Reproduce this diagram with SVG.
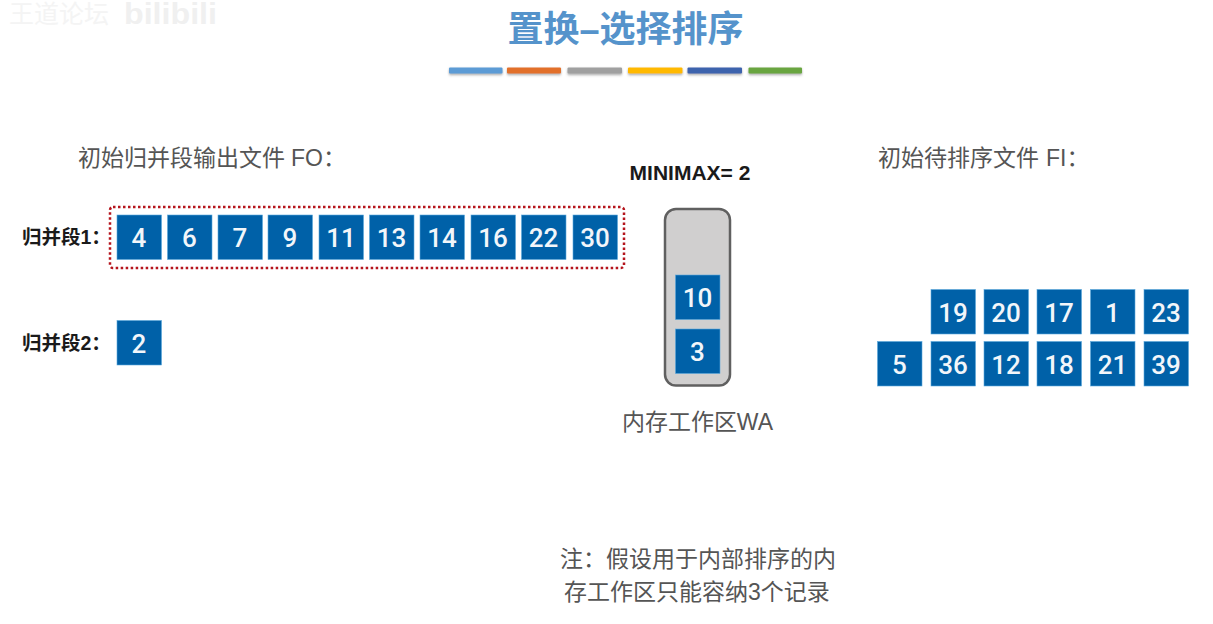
<svg xmlns="http://www.w3.org/2000/svg" width="1213" height="624" viewBox="0 0 1213 624">
<style>
text{font-family:"Liberation Sans","Noto Sans CJK SC",sans-serif}
.b{fill:#0061a8;stroke:#5aa9dc;stroke-width:.6}
.n{fill:#f2f6fa;font-size:26px;font-family:"Roboto","Liberation Sans",sans-serif;font-weight:500;text-anchor:middle}
.l{fill:#555;font-size:23px}
.s{fill:#1a1a1a;font-size:19.500px;font-weight:700}
.bar{filter:url(#sh)}
</style>
<defs><filter id="sh" x="-5%" y="-50%" width="110%" height="250%"><feDropShadow dx="0" dy="1.500" stdDeviation="1" flood-color="#555" flood-opacity=".5"/></filter></defs>
<rect width="1213" height="624" fill="#fff"/>
<g id="watermark" fill="#f0f0f0"><text x="9" y="23" font-size="25" fill="#f4f4f4">王道论坛</text><text x="124" y="24" font-size="29" font-weight="700" textLength="93" lengthAdjust="spacingAndGlyphs">bilibili</text></g>
<g id="title"><text x="625.500" y="42" font-size="36" font-weight="700" fill="#5593cb" text-anchor="middle">置换–选择排序</text>
<g class="bar"><rect x="449" y="67.500" width="53.500" height="6" rx="1" fill="#5b9bd5"/><rect x="507" y="67.500" width="54" height="6" rx="1" fill="#e2702c"/><rect x="567.500" y="67.500" width="54.500" height="6" rx="1" fill="#a0a0a0"/><rect x="628" y="67.500" width="54.500" height="6" rx="1" fill="#ffb900"/><rect x="687.500" y="67.500" width="54.500" height="6" rx="1" fill="#3e63ad"/><rect x="748.500" y="67.500" width="53.500" height="6" rx="1" fill="#69a53f"/></g></g>
<text id="label-fo" class="l" x="78" y="166">初始归并段输出文件 <tspan x="291">FO：</tspan></text>
<text id="label-fi" class="l" x="878" y="166">初始待排序文件 <tspan x="1046">FI：</tspan></text>
<text id="minimax" x="690" y="179.500" font-size="21" font-weight="700" fill="#1a1a1a" text-anchor="middle">MINIMAX= 2</text>
<g id="run-labels"><text class="s" x="22" y="243.500">归并段1：</text><text class="s" x="22" y="349.500">归并段2：</text></g>
<rect id="run1-highlight" x="110" y="207" width="514" height="61" rx="3" fill="none" stroke="#b5141c" stroke-width="2.500" stroke-dasharray="2.500 2.500"/>
<g id="run1">
<g id="r1-4"><rect class="b" x="117" y="215" width="44.500" height="44.500"/><text class="n" x="139" y="247">4</text></g>
<g id="r1-6"><rect class="b" x="167.500" y="215" width="44.500" height="44.500"/><text class="n" x="189.500" y="247">6</text></g>
<g id="r1-7"><rect class="b" x="218" y="215" width="44.500" height="44.500"/><text class="n" x="240" y="247">7</text></g>
<g id="r1-9"><rect class="b" x="268" y="215" width="44.500" height="44.500"/><text class="n" x="290" y="247">9</text></g>
<g id="r1-11"><rect class="b" x="319" y="215" width="44.500" height="44.500"/><text class="n" x="341" y="247">11</text></g>
<g id="r1-13"><rect class="b" x="369.500" y="215" width="44.500" height="44.500"/><text class="n" x="391.500" y="247">13</text></g>
<g id="r1-14"><rect class="b" x="420" y="215" width="44.500" height="44.500"/><text class="n" x="442" y="247">14</text></g>
<g id="r1-16"><rect class="b" x="471" y="215" width="44.500" height="44.500"/><text class="n" x="493" y="247">16</text></g>
<g id="r1-22"><rect class="b" x="521.500" y="215" width="44.500" height="44.500"/><text class="n" x="543.500" y="247">22</text></g>
<g id="r1-30"><rect class="b" x="573" y="215" width="44.500" height="44.500"/><text class="n" x="595" y="247">30</text></g>
</g>
<g id="r2-2"><rect class="b" x="117" y="320.500" width="44.500" height="44.500"/><text class="n" x="139" y="353">2</text></g>
<g id="wa"><rect x="665" y="209" width="65" height="176.500" rx="11" fill="#d0cfcf" stroke="#606060" stroke-width="2.500"/>
<g id="wa-10"><rect class="b" x="675.500" y="275" width="44.500" height="44.500"/><text class="n" x="697.500" y="307">10</text></g>
<g id="wa-3"><rect class="b" x="675.500" y="329" width="44.500" height="44.500"/><text class="n" x="697.500" y="361">3</text></g>
<text class="l" x="622" y="430" textLength="151" lengthAdjust="spacingAndGlyphs">内存工作区WA</text></g>
<g id="input">
<g id="i-19"><rect class="b" x="931" y="289.500" width="44.500" height="44.500"/><text class="n" x="953" y="322">19</text></g>
<g id="i-20"><rect class="b" x="984" y="289.500" width="44.500" height="44.500"/><text class="n" x="1006" y="322">20</text></g>
<g id="i-17"><rect class="b" x="1037" y="289.500" width="44.500" height="44.500"/><text class="n" x="1059" y="322">17</text></g>
<g id="i-1"><rect class="b" x="1090.500" y="289.500" width="44.500" height="44.500"/><text class="n" x="1112.500" y="322">1</text></g>
<g id="i-23"><rect class="b" x="1144" y="289.500" width="44.500" height="44.500"/><text class="n" x="1166" y="322">23</text></g>
<g id="i-5"><rect class="b" x="877.500" y="341.500" width="44.500" height="44.500"/><text class="n" x="899.500" y="374">5</text></g>
<g id="i-36"><rect class="b" x="931" y="341.500" width="44.500" height="44.500"/><text class="n" x="953" y="374">36</text></g>
<g id="i-12"><rect class="b" x="984" y="341.500" width="44.500" height="44.500"/><text class="n" x="1006" y="374">12</text></g>
<g id="i-18"><rect class="b" x="1037" y="341.500" width="44.500" height="44.500"/><text class="n" x="1059" y="374">18</text></g>
<g id="i-21"><rect class="b" x="1090.500" y="341.500" width="44.500" height="44.500"/><text class="n" x="1112.500" y="374">21</text></g>
<g id="i-39"><rect class="b" x="1144" y="341.500" width="44.500" height="44.500"/><text class="n" x="1166" y="374">39</text></g>
</g>
<g id="note"><text class="l" x="560" y="567">注：假设用于内部排序的内</text><text class="l" x="564" y="600">存工作区只能容纳3个记录</text></g>
</svg>
